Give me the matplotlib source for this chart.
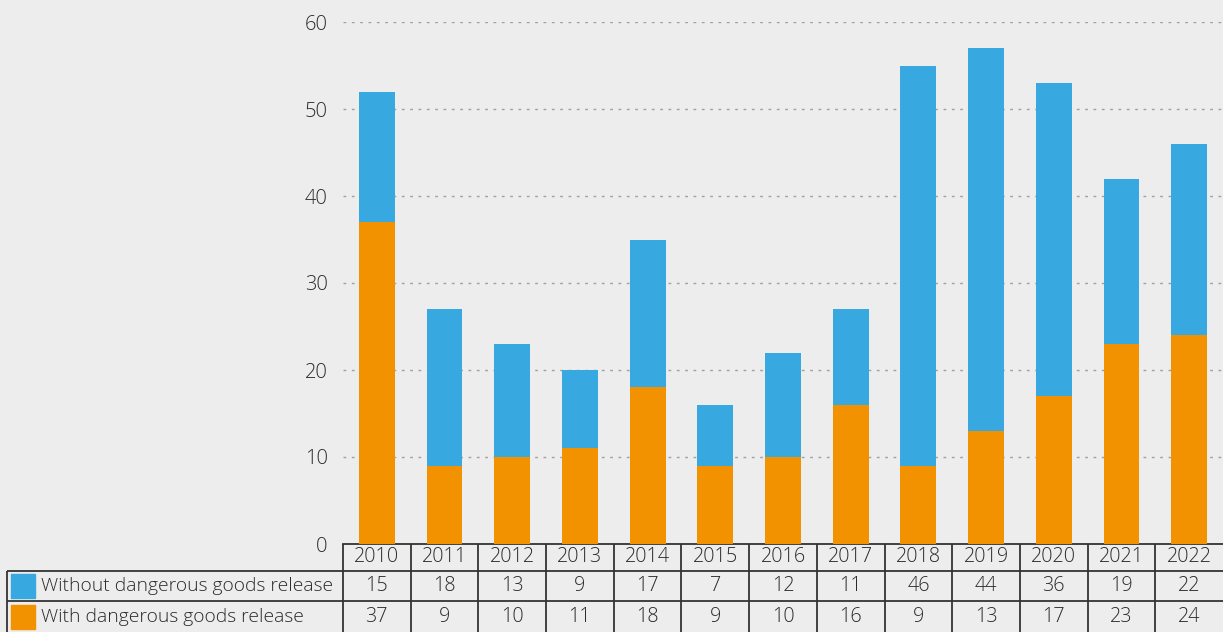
import numpy as np
import matplotlib.pyplot as plt
import matplotlib.transforms as mtransforms
from matplotlib.patches import Rectangle

# Data
years = ['2010', '2011', '2012', '2013', '2014', '2015', '2016',
         '2017', '2018', '2019', '2020', '2021', '2022']
without_release = [15, 18, 13, 9, 17, 7, 12, 11, 46, 44, 36, 19, 22]
with_release = [37, 9, 10, 11, 18, 9, 10, 16, 9, 13, 17, 23, 24]
labels = ['Without dangerous goods release', 'With dangerous goods release']

blue = '#38a9e0'
orange = '#f39200'
bg = '#ededed'
edge = '#333333'
txt = '#2b2b2b'

plt.rcParams['font.family'] = ['Open Sans', 'DejaVu Sans']
plt.rcParams['font.weight'] = 'light'

W, H = 1223, 632
fig = plt.figure(figsize=(W / 100, H / 100), dpi=100, facecolor=bg)
ax_h = 522
ax = fig.add_axes([343 / W, 1 - 544 / H, 880 / W, ax_h / H], facecolor=bg)

x = np.arange(len(years))
ax.bar(x, with_release, width=0.53, color=orange, zorder=3)
ax.bar(x, without_release, width=0.53, bottom=with_release, color=blue, zorder=3)

ax.set_xlim(-0.5, len(years) - 0.5)
ax.set_ylim(0, 60)
ax.set_yticks(range(0, 61, 10))
ax.yaxis.grid(True, linestyle=(0, (2, 4)), color='#a0a0a0', linewidth=1)
ax.set_axisbelow(True)
ax.tick_params(axis='y', length=0, pad=11, labelsize=14.5, labelcolor=txt)
ax.set_xticks([])
for s in ['top', 'right', 'left']:
    ax.spines[s].set_visible(False)
ax.spines['bottom'].set_color(edge)
ax.spines['bottom'].set_linewidth(1.3)

# Data table below the bars, drawn by hand
trans = mtransforms.blended_transform_factory(ax.transData, ax.transAxes)
col_w = 880 / len(years)
lab_left = -0.5 - 336 / col_w
rows_y = [0, -27 / ax_h, -57 / ax_h, -88 / ax_h]
lkw = dict(color=edge, lw=1.3, transform=trans, clip_on=False,
           solid_capstyle='butt')

for b in np.arange(-0.5, len(years) - 0.5, 1.0):
    ax.plot([b, b], [rows_y[0], rows_y[3]], **lkw)
ax.plot([lab_left, lab_left], [rows_y[1], rows_y[3]], **lkw)
for yy in rows_y[1:3]:
    ax.plot([lab_left, len(years) - 0.5], [yy, yy], **lkw)

fs = 14.2
tkw = dict(transform=trans, ha='center', va='center', fontsize=fs,
           color=txt, clip_on=False)
for i, yr in enumerate(years):
    ax.text(i, (rows_y[0] + rows_y[1]) / 2, yr, **tkw)
    ax.text(i, (rows_y[1] + rows_y[2]) / 2, str(without_release[i]), **tkw)
    ax.text(i, (rows_y[2] + rows_y[3]) / 2, str(with_release[i]), **tkw)

for r, (lab, col) in enumerate(zip(labels, [blue, orange])):
    yc = (rows_y[r + 1] + rows_y[r + 2]) / 2
    ax.text(lab_left + 34 / col_w, yc, lab, transform=trans, ha='left',
            va='center', fontsize=13.9, color=txt, clip_on=False)
    ax.add_patch(Rectangle((lab_left + 4 / col_w, yc - 12 / ax_h),
                           24 / col_w, 24 / ax_h, transform=trans,
                           color=col, clip_on=False))

fig.savefig('out.png', dpi=100, facecolor=bg)
